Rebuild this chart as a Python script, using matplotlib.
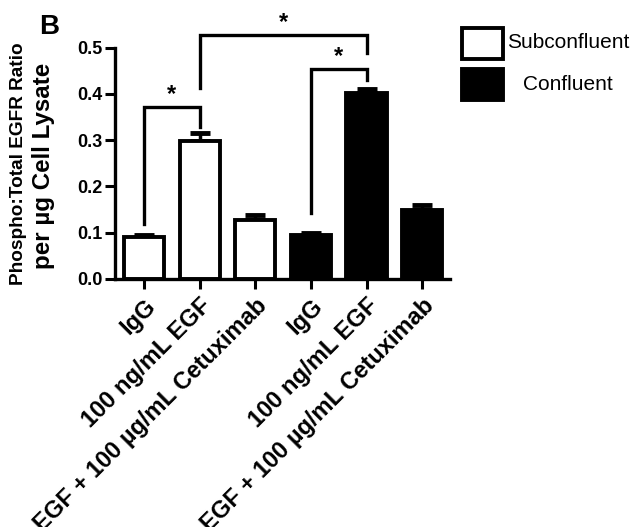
import matplotlib.pyplot as plt
import matplotlib.patches as mpatches
import numpy as np

plt.rcParams['font.family'] = ['Liberation Sans', 'DejaVu Sans']

labels = ["IgG", "100 ng/mL EGF", "EGF + 100 µg/mL Cetuximab",
          "IgG", "100 ng/mL EGF", "EGF + 100 µg/mL Cetuximab"]
means = [0.090, 0.299, 0.128, 0.095, 0.401, 0.150]
errs = [0.006, 0.017, 0.010, 0.004, 0.010, 0.010]
groups = ["Subconfluent"] * 3 + ["Confluent"] * 3
fills = {"Subconfluent": "white", "Confluent": "black"}

# significance brackets: (left bar, right bar, left leg end, right leg end, top)
brackets = [(0, 1, 0.118, 0.329, 0.371),
            (1, 4, 0.412, 0.489, 0.528),
            (3, 4, 0.142, 0.430, 0.455)]

fig = plt.figure(figsize=(6.33, 5.27), dpi=100)
ax = fig.add_axes([0.1817, 0.4706, 0.5292, 0.4389])

x = np.arange(len(means))
ax.bar(x, means, width=0.72, color=[fills[g] for g in groups],
       edgecolor="black", linewidth=2.8, zorder=2)
ax.errorbar(x, means, yerr=[np.zeros(len(errs)), errs], fmt="none",
            ecolor="black", elinewidth=2.5, capsize=7, capthick=3.5, zorder=1)

for a, b, ya, yb, top in brackets:
    ax.plot([a, a, b, b], [ya, top, top, yb], color="black", lw=2.4,
            clip_on=False, solid_joinstyle="miter")
    ax.text((a + b) / 2, top + 0.002, "*", ha="center", va="bottom",
            fontsize=17, fontweight="bold", clip_on=False)

ax.set_xlim(-0.52, 5.5)
ax.set_ylim(0, 0.5)
ax.set_yticks([0.0, 0.1, 0.2, 0.3, 0.4, 0.5])
ax.set_yticklabels(["0.0", "0.1", "0.2", "0.3", "0.4", "0.5"],
                   fontsize=13, fontweight="bold")
ax.set_xticks(x)
ax.set_xticklabels(labels, rotation=45, ha="right", rotation_mode="anchor",
                   fontsize=17, fontweight="bold")
ax.tick_params(axis="both", direction="out", length=7, width=2.2)
ax.tick_params(axis="x", pad=4)
ax.tick_params(axis="y", pad=2)
for s in ["top", "right"]:
    ax.spines[s].set_visible(False)
for s in ["left", "bottom"]:
    ax.spines[s].set_linewidth(2.4)

fig.text(19 / 633, 0.69, "Phospho:Total EGFR Ratio", rotation=90, ha="center",
         va="center", fontsize=13.7, fontweight="bold")
fig.text(44 / 633, 0.685, "per µg Cell Lysate", rotation=90, ha="center",
         va="center", fontsize=17.4, fontweight="bold")
fig.text(39 / 633, 1 - 27 / 527, "B", fontsize=20, fontweight="bold",
         ha="left", va="center")

# legend drawn as two boxes with centred labels
legend_items = [("Subconfluent", "white"), ("Confluent", "black")]
for i, (name, fc) in enumerate(legend_items):
    top = 28 + i * 41
    fig.patches.append(mpatches.Rectangle(
        (462 / 633, 1 - (top + 31) / 527), 41 / 633, 31 / 527,
        facecolor=fc, edgecolor="black", linewidth=2.8,
        transform=fig.transFigure, figure=fig))
    fig.text(568 / 633, 1 - (top + 15) / 527, name, ha="center", va="center",
             fontsize=15)

fig.savefig("out.png", dpi=100)
